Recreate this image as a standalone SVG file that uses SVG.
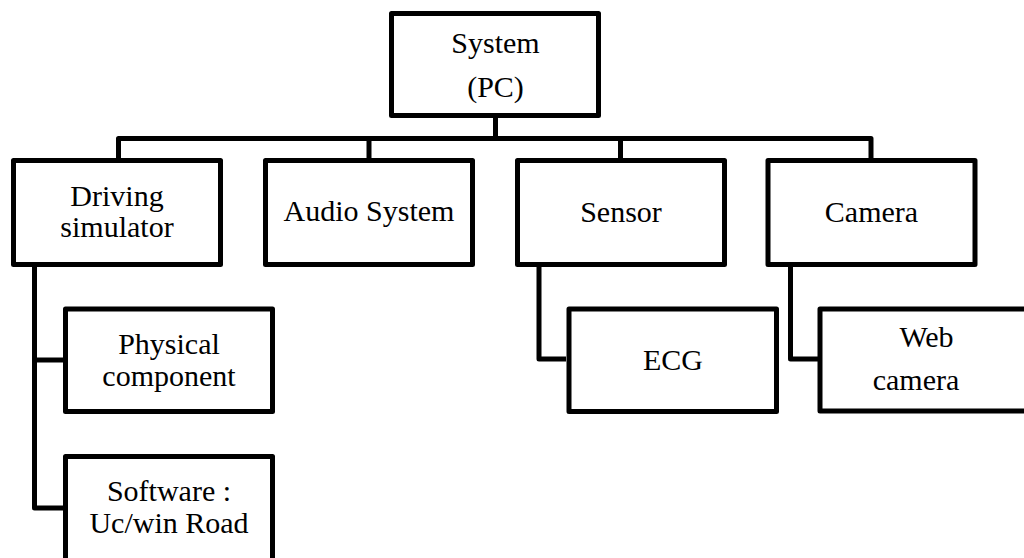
<svg xmlns="http://www.w3.org/2000/svg" width="1024" height="558" viewBox="0 0 1024 558">
<style>
.box{fill:#fff;stroke:#000;stroke-width:5;stroke-linejoin:round}
.ln{fill:none;stroke:#000;stroke-width:5;stroke-linejoin:round;stroke-linecap:butt}
.t{font-family:'Liberation Serif','Times New Roman',Tinos,'DejaVu Serif',serif;font-size:30px;fill:#000;text-anchor:middle}
</style>
<rect width="1024" height="558" fill="#fff"/>
<g id="connectors">
<path class="ln" d="M495.5 118V138.5"/>
<path class="ln" d="M118.5 158V138.5H871V158"/>
<path class="ln" d="M369 138.5V158"/>
<path class="ln" d="M620.5 138.5V158"/>
<path class="ln" d="M34.5 267V508H63"/>
<path class="ln" d="M34.5 360H63"/>
<path class="ln" d="M539 267V359H566"/>
<path class="ln" d="M790.5 267V359H818"/>
</g>
<g id="system">
<rect class="box" x="391.5" y="13.5" width="207" height="102"/>
<text class="t" x="495.5" y="53">System</text>
<text class="t" x="495.5" y="97">(PC)</text>
</g>
<g id="driving">
<rect class="box" x="13.5" y="160.5" width="207" height="104"/>
<text class="t" x="117" y="206">Driving</text>
<text class="t" x="117" y="237">simulator</text>
</g>
<g id="audio">
<rect class="box" x="265.5" y="160.5" width="207" height="104"/>
<text class="t" x="369" y="221">Audio System</text>
</g>
<g id="sensor">
<rect class="box" x="517.5" y="160.5" width="207" height="104"/>
<text class="t" x="621" y="222">Sensor</text>
</g>
<g id="camera">
<rect class="box" x="768" y="160.5" width="207" height="104"/>
<text class="t" x="871.5" y="222">Camera</text>
</g>
<g id="physical">
<rect class="box" x="65.5" y="309" width="207" height="102.5"/>
<text class="t" x="169" y="354">Physical</text>
<text class="t" x="169" y="386">component</text>
</g>
<g id="software">
<rect class="box" x="65.5" y="456.5" width="207" height="110"/>
<text class="t" x="169" y="501">Software :</text>
<text class="t" x="169" y="533">Uc/win Road</text>
</g>
<g id="ecg">
<rect class="box" x="569" y="309" width="207.5" height="102.5"/>
<text class="t" x="673" y="370">ECG</text>
</g>
<g id="webcam">
<rect class="box" x="820" y="309" width="210" height="102"/>
<text class="t" x="926.5" y="347">Web</text>
<text class="t" x="916" y="390">camera</text>
</g>
</svg>
